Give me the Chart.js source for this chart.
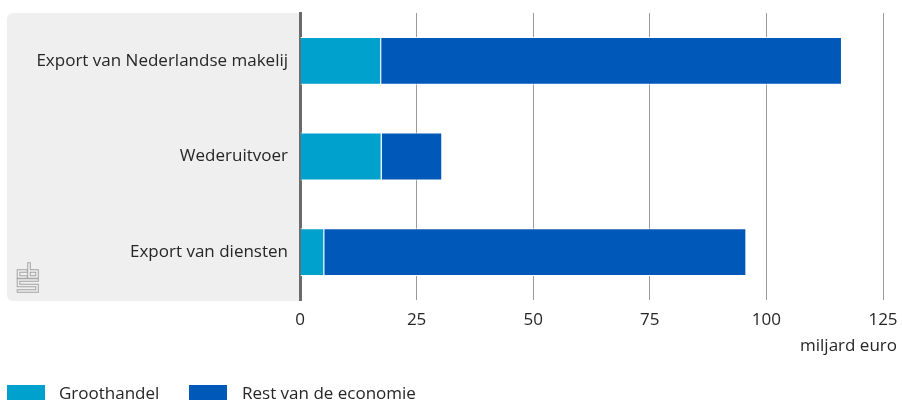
<!DOCTYPE html>
<html>
<head>
<meta charset="utf-8">
<script src="https://cdn.jsdelivr.net/npm/chart.js@4.4.1/dist/chart.umd.min.js"></script>
<style>
    html, body { margin: 0; padding: 0; background: #fff; overflow: hidden; }
    #chart { display: block; }
</style>
</head>
<body>
<canvas id="chart" width="902" height="400"></canvas>
<script>
// Export figures, billion euro
const categories = ['Export van Nederlandse makelij', 'Wederuitvoer', 'Export van diensten'];
const groothandel = [17.4, 17.5, 5.2];
const restVanDeEconomie = [98.8, 13.0, 90.5];
const seriesNames = ['Groothandel', 'Rest van de economie'];
const seriesColors = ['#00a1cd', '#0058b8'];
const xTicks = [0, 25, 50, 75, 100, 125];
const unitLabel = 'miljard euro';

const FONT_FAMILY = '"Open Sans", "Noto Sans", sans-serif';
const FONT_SIZE = 17;
const TEXT_COLOR = '#262626';
const PANEL_COLOR = '#efefef';

// Small outlined "cbs" mark in the corner of the label panel
function drawLogo(ctx, x, y) {
    const shapes = [
        [[9, 7], [1.5, 7], [1.5, 13], [9, 13]],
        [[12, 0], [12, 13], [20, 13], [20, 7], [12, 7]],
        [[20, 16], [1.5, 16], [1.5, 21.5], [20, 21.5], [20, 27], [1.5, 27]]
    ];
    ctx.save();
    ctx.translate(x, y);
    ctx.lineJoin = 'miter';
    ctx.lineCap = 'square';
    [['#a3a3a3', 3.6], [PANEL_COLOR, 1.6]].forEach(([color, width]) => {
        ctx.strokeStyle = color;
        ctx.lineWidth = width;
        shapes.forEach(points => {
            ctx.beginPath();
            points.forEach(([px, py], i) => i ? ctx.lineTo(px, py) : ctx.moveTo(px, py));
            ctx.stroke();
        });
    });
    ctx.restore();
}

// Grey panel behind the category labels
const labelPanel = {
    id: 'labelPanel',
    beforeDraw(chart) {
        const { ctx, chartArea } = chart;
        ctx.save();
        ctx.fillStyle = PANEL_COLOR;
        ctx.beginPath();
        ctx.roundRect(7, chartArea.top, chartArea.left - 7, chartArea.bottom - chartArea.top + 1, [6, 0, 0, 6]);
        ctx.fill();
        ctx.restore();
        drawLogo(ctx, 17, 264);
    }
};

// Unit label under the axis and the legend row at the bottom
const footer = {
    id: 'footer',
    afterDraw(chart) {
        const { ctx } = chart;
        ctx.save();
        ctx.font = FONT_SIZE + 'px ' + FONT_FAMILY;
        ctx.fillStyle = TEXT_COLOR;
        ctx.textBaseline = 'middle';
        ctx.textAlign = 'right';
        ctx.fillText(unitLabel, 897, 346);

        ctx.textAlign = 'left';
        const boxX = [7, 189];
        const textX = [59, 242];
        seriesNames.forEach((name, i) => {
            ctx.fillStyle = seriesColors[i];
            ctx.fillRect(boxX[i], 385, 38, 16);
            ctx.fillStyle = TEXT_COLOR;
            ctx.fillText(name, textX[i], 394);
        });
        ctx.restore();
    }
};

const chart = new Chart(document.getElementById('chart'), {
    type: 'bar',
    data: {
        labels: categories,
        datasets: [
            { label: seriesNames[0], data: groothandel, backgroundColor: seriesColors[0] },
            { label: seriesNames[1], data: restVanDeEconomie, backgroundColor: seriesColors[1] }
        ]
    },
    options: {
        indexAxis: 'y',
        responsive: false,
        animation: false,
        layout: { autoPadding: false, padding: { top: 13, right: 19, bottom: 0, left: 0 } },
        datasets: {
            bar: {
                barPercentage: 1,
                categoryPercentage: 0.5,
                borderColor: '#ffffff',
                borderWidth: 1
            }
        },
        scales: {
            x: {
                stacked: true,
                min: 0,
                max: 125,
                afterBuildTicks: scale => { scale.ticks = xTicks.map(v => ({ value: v })); },
                afterFit: scale => {
                    scale.height = 100;
                    scale.paddingLeft = 0;
                    scale.paddingRight = 0;
                },
                grid: {
                    color: c => c.tick && c.tick.value === 0 ? 'rgba(0,0,0,0)' : '#9a9a9a',
                    lineWidth: 1,
                    drawTicks: false
                },
                border: { display: false },
                ticks: {
                    color: TEXT_COLOR,
                    font: { family: FONT_FAMILY, size: FONT_SIZE },
                    padding: 10,
                    maxRotation: 0
                }
            },
            y: {
                stacked: true,
                z: 1,
                afterFit: scale => {
                    scale.width = 300;
                    scale.paddingTop = 0;
                    scale.paddingBottom = 0;
                },
                grid: { display: false, drawTicks: false },
                border: { color: '#6b6b6b', width: 3 },
                ticks: {
                    color: TEXT_COLOR,
                    font: { family: FONT_FAMILY, size: FONT_SIZE },
                    padding: 12
                }
            }
        },
        plugins: {
            legend: { display: false },
            tooltip: { enabled: false }
        }
    },
    plugins: [labelPanel, footer]
});
</script>
</body>
</html>
